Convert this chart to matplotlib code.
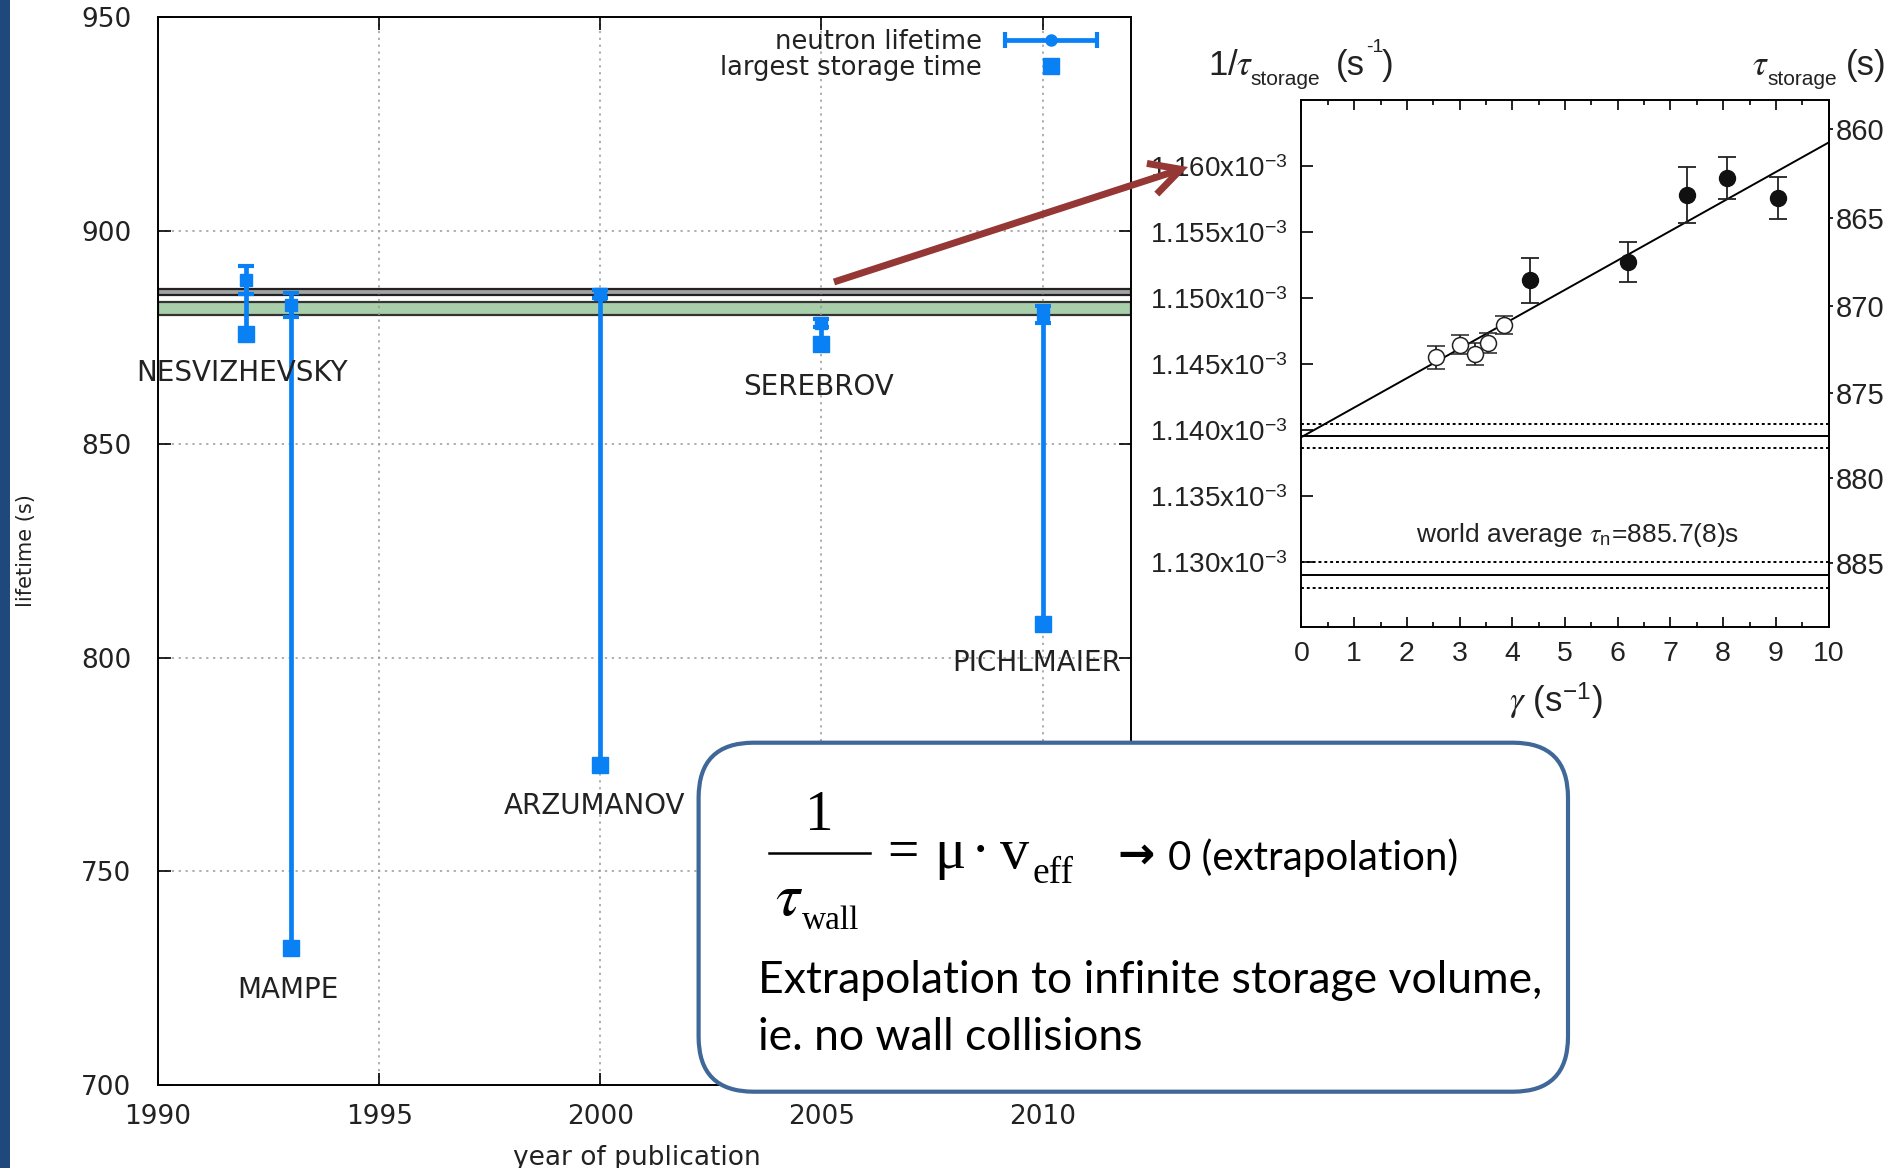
import numpy as np
import matplotlib
matplotlib.use('Agg')
import matplotlib.pyplot as plt
from matplotlib.patches import FancyBboxPatch, FancyArrowPatch, Rectangle
from matplotlib.lines import Line2D
from matplotlib.transforms import IdentityTransform
from matplotlib.legend_handler import HandlerErrorbar
from matplotlib.ticker import MultipleLocator, FuncFormatter

# --- left chart: storage experiments ---
years = [1992, 1993, 2000, 2005, 2010]
names = ['NESVIZHEVSKY', 'MAMPE', 'ARZUMANOV', 'SEREBROV', 'PICHLMAIER']
lifetime = [888.4, 882.5, 885.2, 878.3, 880.4]
lifetime_err = [3.3, 2.8, 1.0, 0.9, 2.0]
storage = [875.9, 732.0, 774.8, 873.4, 808.0]
label_x = [1991.9, 1992.94, 1999.88, 2004.94, 2009.86]
label_y = [866.7, 722.3, 765.2, 863.3, 798.8]
band_grey = [884.9, 886.4]
band_green = [880.3, 883.2]
year_ticks = [1990, 1995, 2000, 2005, 2010]
life_ticks = [700, 750, 800, 850, 900, 950]

# --- inset: 1/tau_storage vs gamma (values in 1e-3 s^-1) ---
gamma_open = [2.56, 3.0, 3.29, 3.53, 3.84]
inv_open = [1.14553, 1.1465, 1.14579, 1.14662, 1.14797]
err_open = [0.00089, 0.00074, 0.00082, 0.00079, 0.0007]
gamma_full = [4.33, 6.2, 7.31, 8.08, 9.04]
inv_full = [1.15137, 1.15277, 1.15784, 1.15914, 1.15759]
err_full = [0.0017, 0.0015, 0.0021, 0.0016, 0.0016]
fit_gamma = [0, 10]
fit_inv = [1.1395, 1.1618]
extrap_inv = 1.13957
extrap_err = 0.00088
tau_world = 885.7
tau_world_err = 0.8
inv_ticks = [1.130, 1.135, 1.140, 1.145, 1.150, 1.155, 1.160]
tau_ticks = [860, 865, 870, 875, 880, 885]

W, H = 1890, 1168
BLUE = '#0a80f5'
TXT = '#222222'

def fx(x):
    return x / W

def fy(y):
    return 1 - y / H

plt.rcParams['mathtext.fontset'] = 'stix'

fig = plt.figure(figsize=(W / 100, H / 100), dpi=100)

# ================= left chart =================
ax = fig.add_axes([fx(158), fy(1085), fx(1131) - fx(158), fy(17) - fy(1085)])
ax.set_xlim(1990, 2012)
ax.set_ylim(700, 950)
ax.axhspan(band_grey[0], band_grey[1], facecolor='#a3a3a3', edgecolor='#222222', lw=1.6, zorder=1)
ax.axhspan(band_green[0], band_green[1], facecolor='#a9cfaa', edgecolor='#333333', lw=1.6, zorder=1)

ax.vlines(years, storage, lifetime, color=BLUE, lw=3.4, zorder=3)
ax.errorbar(years, lifetime, yerr=lifetime_err, fmt='s', ms=8, color=BLUE, ecolor=BLUE,
            elinewidth=3.4, capsize=6, capthick=3, zorder=4)
sq, = ax.plot(years, storage, 's', ms=11, color=BLUE, zorder=4, label='largest storage time')

proxy = ax.errorbar([np.nan], [np.nan], xerr=[1], fmt='o', ms=8, color=BLUE, ecolor=BLUE,
                    elinewidth=3.4, capsize=6, capthick=3, label='neutron lifetime')

for n, lx, ly in zip(names, label_x, label_y):
    ax.text(lx, ly, n, ha='center', va='center', fontsize=20, color=TXT, family='DejaVu Sans')

ax.set_xticks(year_ticks)
ax.set_yticks(life_ticks)
ax.grid(True, color='#9a9a9a', ls=(0, (1.5, 3)), lw=1.1, zorder=2)
ax.tick_params(direction='in', length=9, width=1.2, top=True, right=True,
               labelsize=19, labelcolor=TXT)
ax.tick_params(axis='y', pad=19)
ax.tick_params(axis='x', pad=14)
for lab in ax.get_xticklabels() + ax.get_yticklabels():
    lab.set_family('DejaVu Sans')
for s in ax.spines.values():
    s.set_linewidth(1.4)

ax.set_xlabel('year of publication', fontsize=19, color=TXT, family='DejaVu Sans')
ax.xaxis.set_label_coords(0.492, -0.056)
ax.set_ylabel('lifetime (s)', fontsize=15, color=TXT, family='DejaVu Sans')
ax.yaxis.set_label_coords(-0.1254, 0.5)

ax.legend(handles=[proxy, sq], labels=['neutron lifetime', 'largest storage time'],
          handler_map={proxy: HandlerErrorbar(xerr_size=1.79)},
          loc='upper right', bbox_to_anchor=(0.965, 0.9885), borderaxespad=0, borderpad=0,
          frameon=False, markerfirst=False, handlelength=3.58, handletextpad=0.9,
          labelspacing=0.0, prop={'family': 'DejaVu Sans', 'size': 18.5}, labelcolor=TXT)

# ================= inset =================
ax2 = fig.add_axes([fx(1301.5), fy(626.8), fx(1828.6) - fx(1301.5), fy(100) - fy(626.8)])
s = 1e-3
ax2.set_xlim(0, 10)
ax2.set_ylim(1.12513 * s, 1.16502 * s)

ax2.plot(fit_gamma, np.array(fit_inv) * s, color='k', lw=1.4, zorder=2)
ax2.axhline(extrap_inv * s, color='k', lw=1.4)
ax2.axhline((extrap_inv + extrap_err) * s, color='k', lw=1.4, ls=(0, (1.5, 1.5)))
ax2.axhline((extrap_inv - extrap_err) * s, color='k', lw=1.4, ls=(0, (1.5, 1.5)))
ax2.axhline(1 / tau_world, color='k', lw=1.4)
ax2.axhline(1 / (tau_world - tau_world_err), color='k', lw=1.4, ls=(0, (1.5, 1.5)))
ax2.axhline(1 / (tau_world + tau_world_err), color='k', lw=1.4, ls=(0, (1.5, 1.5)))

ax2.errorbar(gamma_open, np.array(inv_open) * s, yerr=np.array(err_open) * s, fmt='o',
             ms=11.5, mfc='white', mec='#222', mew=1.1, ecolor='#222', elinewidth=1.3,
             capsize=6.5, capthick=1.3, zorder=3)
ax2.errorbar(gamma_full, np.array(inv_full) * s, yerr=np.array(err_full) * s, fmt='o',
             ms=11.5, mfc='#111', mec='#111', ecolor='#222', elinewidth=1.3,
             capsize=6.5, capthick=1.3, zorder=3)

ax2.text(5.24, 1.13155 * s, r'world average $\tau_{\mathregular{n}}$=885.7(8)s',
         ha='center', va='baseline', fontsize=19, family='Liberation Sans', color=TXT)

ax2.set_yticks(np.array(inv_ticks) * s)
ax2.yaxis.set_major_formatter(FuncFormatter(lambda v, p: f'{v * 1e3:.3f}x10$^{{\\mathregular{{-3}}}}$'))
ax2.xaxis.set_major_locator(MultipleLocator(1))
ax2.xaxis.set_minor_locator(MultipleLocator(0.5))
ax2.tick_params(axis='x', which='major', direction='in', top=True, length=7, width=1.2, pad=10,
                labelsize=20.5)
ax2.tick_params(axis='x', which='minor', direction='in', top=True, length=3.5, width=1.2)
ax2.tick_params(axis='y', direction='in', length=8.5, width=1.2, pad=10, right=False,
                labelsize=20)
ax2.tick_params(labelcolor=TXT)
for lab in ax2.get_xticklabels() + ax2.get_yticklabels():
    lab.set_family('Liberation Sans')
for sp in ax2.spines.values():
    sp.set_linewidth(1.4)

sec = ax2.secondary_yaxis('right', functions=(lambda y: 1 / y, lambda t: 1 / t))
sec.set_yticks(tau_ticks)
sec.tick_params(direction='out', length=3, width=1.2, pad=2.5, labelsize=21, labelcolor=TXT)
for lab in sec.get_yticklabels():
    lab.set_family('Liberation Sans')
sec.spines['right'].set_linewidth(1.4)

# axis titles of the inset, pieced together like the original
lbl = dict(family='Liberation Sans', color=TXT, va='baseline')
fig.text(fx(1207.6), fy(75), r'1/$\tau$', fontsize=25, **lbl)
fig.text(fx(1250), fy(85), 'storage', fontsize=15, **lbl)
fig.text(fx(1336), fy(75), '(s', fontsize=25, **lbl)
fig.text(fx(1366), fy(52), '-1', fontsize=14, **lbl)
fig.text(fx(1382), fy(75), ')', fontsize=25, **lbl)
fig.text(fx(1752), fy(75), r'$\tau$', fontsize=25, **lbl)
fig.text(fx(1767), fy(85), 'storage', fontsize=15, **lbl)
fig.text(fx(1846), fy(75), '(s)', fontsize=25, **lbl)
fig.text(fx(1556), fy(712), r'$\gamma$ (s$^{\mathregular{-1}}$)',
         fontsize=25, ha='center', va='baseline', family='Liberation Sans', color=TXT)

# ================= decorations =================
fig.add_artist(Rectangle((0, 0), fx(10), 1, transform=fig.transFigure, color='#1f497d', lw=0,
                         zorder=-1))

arrow = FancyArrowPatch((834, H - 282), (1188, H - 167),
                        arrowstyle='->,head_length=1.1,head_width=0.58', mutation_scale=20,
                        lw=5, color='#953735', transform=IdentityTransform(),
                        shrinkA=0, shrinkB=0, joinstyle='miter', capstyle='butt')
fig.add_artist(arrow)

box = FancyBboxPatch((698.6, H - 1091.7), 1568 - 698.6, 1091.7 - 742.7,
                     boxstyle='round,pad=0,rounding_size=55', transform=IdentityTransform(),
                     fc='white', ec='#3f6797', lw=3)
fig.add_artist(box)

serif = 'Liberation Serif'
fig.text(fx(819), fy(830), '1', ha='center', va='baseline', fontsize=41, family=serif)
fig.add_artist(Line2D([fx(769), fx(870)], [fy(852.7)] * 2, color='k', lw=1.8,
                      transform=fig.transFigure))
fig.text(fx(775), fy(915), r'$\tau$', va='baseline', fontsize=44)
fig.text(fx(802), fy(929), 'wall', va='baseline', fontsize=24, family=serif)
fig.text(fx(887), fy(868), '=', va='baseline', fontsize=40, family=serif)
fig.text(fx(934), fy(868), 'μ', va='baseline', fontsize=42, family=serif)
fig.text(fx(980), fy(868), '·', ha='center', va='baseline', fontsize=42, family=serif)
fig.text(fx(1000), fy(868), 'v', va='baseline', fontsize=42, family=serif)
fig.text(fx(1033), fy(883), 'eff', va='baseline', fontsize=27, family=serif)

cal = ['Lato', 'DejaVu Sans']
fig.text(fx(1117), fy(868), '→', va='baseline', fontsize=32, family='DejaVu Sans',
         fontweight='bold')
fig.text(fx(1168), fy(870), '0 (extrapolation)', va='baseline', fontsize=29, family=cal)
fig.text(fx(757.7), fy(993.3), 'Extrapolation to infinite storage volume,', va='baseline',
         fontsize=32, family=cal)
fig.text(fx(757.7), fy(1050), 'ie. no wall collisions', va='baseline', fontsize=32, family=cal)

fig.savefig('out.png', dpi=100)
